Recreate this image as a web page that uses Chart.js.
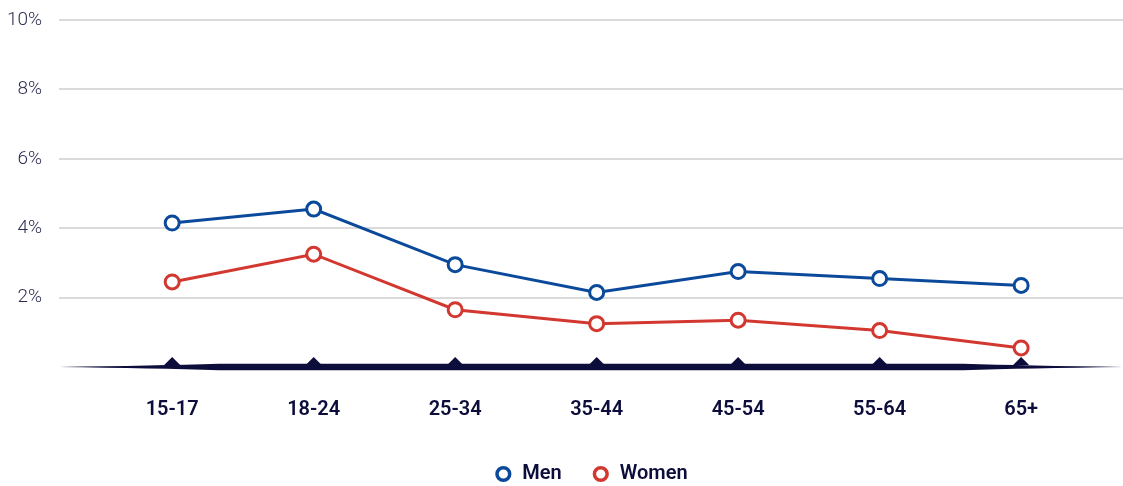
<!DOCTYPE html>
<html lang="en">
<head>
    <meta charset="UTF-8">
    <title>Men and women by age group</title>
    <style>
        html, body { margin: 0; padding: 0; background: #fff; overflow: hidden; }
        canvas { display: block; }
    </style>
</head>
<body>
    <canvas id="myChart" width="1123" height="486"></canvas>

    <script src="https://cdn.jsdelivr.net/npm/chart.js"></script>

    <script>
        // Age groups on the x axis
        const ageGroups = ['15-17', '18-24', '25-34', '35-44', '45-54', '55-64', '65+'];

        // Percentages per age group
        const men   = [4.15, 4.55, 2.95, 2.15, 2.75, 2.55, 2.35];
        const women = [2.45, 3.25, 1.65, 1.25, 1.35, 1.05, 0.55];

        // y-axis ticks that get a label
        const yTicks = [2, 4, 6, 8, 10];

        const navy = '#0d0d3b';

        // Thick tapered baseline with little diamond markers
        const baseline = {
            id: 'baseline',
            beforeDatasetsDraw(chart) {
                const { ctx, chartArea } = chart;
                const x = chart.scales.x;
                const y0 = chart.scales.y.getPixelForValue(0);
                const l = chartArea.left, r = chartArea.right;
                const half = 3.2, taper = 160;
                ctx.save();
                ctx.fillStyle = navy;
                ctx.beginPath();
                ctx.moveTo(l, y0);
                ctx.quadraticCurveTo(l + taper * 0.6, y0 - half * 0.4, l + taper, y0 - half);
                ctx.lineTo(r - taper, y0 - half);
                ctx.quadraticCurveTo(r - taper * 0.6, y0 - half * 0.4, r, y0);
                ctx.quadraticCurveTo(r - taper * 0.6, y0 + half * 0.4, r - taper, y0 + half);
                ctx.lineTo(l + taper, y0 + half);
                ctx.quadraticCurveTo(l + taper * 0.6, y0 + half * 0.4, l, y0);
                ctx.closePath();
                ctx.fill();
                ageGroups.forEach((g, i) => {
                    const px = x.getPixelForValue(i);
                    ctx.beginPath();
                    ctx.moveTo(px - 8, y0 - 2);
                    ctx.lineTo(px, y0 - 10);
                    ctx.lineTo(px + 8, y0 - 2);
                    ctx.closePath();
                    ctx.fill();
                });
                ctx.restore();
            }
        };

        const toPoints = arr => arr.map((v, i) => ({ x: i, y: v }));

        new Chart(document.getElementById('myChart'), {
            type: 'line',
            data: {
                datasets: [{
                    label: 'Men',
                    data: toPoints(men),
                    borderColor: '#0b4a9b',
                    backgroundColor: '#0b4a9b',
                    borderWidth: 3,
                    pointRadius: 7,
                    pointBorderWidth: 3,
                    pointBackgroundColor: '#fff',
                    pointBorderColor: '#0b4a9b',
                    tension: 0
                }, {
                    label: 'Women',
                    data: toPoints(women),
                    borderColor: '#d2382f',
                    backgroundColor: '#d2382f',
                    borderWidth: 3,
                    pointRadius: 7,
                    pointBorderWidth: 3,
                    pointBackgroundColor: '#fff',
                    pointBorderColor: '#d2382f',
                    tension: 0
                }]
            },
            options: {
                responsive: false,
                animation: false,
                layout: {
                    autoPadding: false,
                    padding: { top: 20, right: 0, bottom: -8, left: 0 }
                },
                plugins: {
                    tooltip: { enabled: false },
                    legend: {
                        position: 'bottom',
                        fullSize: false,
                        labels: {
                            usePointStyle: true,
                            pointStyle: 'circle',
                            boxWidth: 18,
                            boxHeight: 9,
                            padding: 30,
                            color: navy,
                            font: { family: 'Roboto', size: 20, weight: '600' },
                            generateLabels(chart) {
                                return chart.data.datasets.map((ds, i) => ({
                                    text: ds.label,
                                    fillStyle: '#fff',
                                    strokeStyle: ds.borderColor,
                                    lineWidth: 3.5,
                                    pointStyle: 'circle',
                                    fontColor: navy,
                                    datasetIndex: i
                                }));
                            }
                        }
                    },
                },
                scales: {
                    x: {
                        type: 'linear',
                        min: -0.8,
                        max: 6.72,
                        afterBuildTicks(scale) {
                            scale.ticks = ageGroups.map((g, i) => ({ value: i }));
                        },
                        afterFit(scale) {
                            scale.height = 67;
                            scale.paddingLeft = 0;
                            scale.paddingRight = 0;
                        },
                        grid: { display: false },
                        border: { display: false },
                        ticks: {
                            padding: 23,
                            color: navy,
                            font: { family: 'Roboto', size: 20, weight: '600' },
                            callback: v => ageGroups[v]
                        }
                    },
                    y: {
                        min: 0,
                        max: 10,
                        afterBuildTicks(scale) {
                            scale.ticks = [0, ...yTicks].map(v => ({ value: v }));
                        },
                        afterFit(scale) {
                            scale.width = 59;
                            scale.paddingTop = 0;
                            scale.paddingBottom = 0;
                        },
                        border: { display: false },
                        grid: {
                            drawTicks: false,
                            lineWidth: 2,
                            color: c => c.tick && c.tick.value === 0 ? 'rgba(0,0,0,0)' : '#dadada'
                        },
                        ticks: {
                            padding: 17,
                            color: '#2e2e55',
                            font: { family: 'Roboto', size: 19, weight: '300' },
                            callback: v => v === 0 ? '' : v + '%'
                        }
                    }
                }
            },
            plugins: [baseline]
        });
    </script>
</body>
</html>
